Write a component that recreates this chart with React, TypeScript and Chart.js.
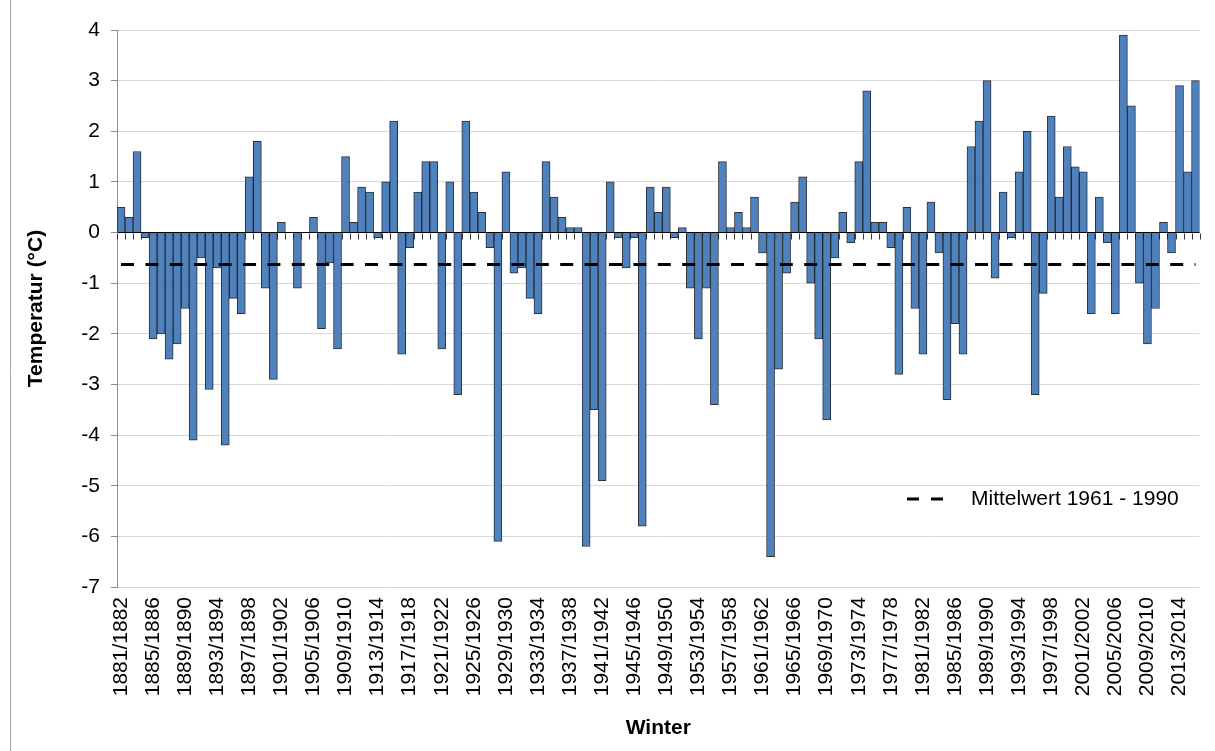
import React, { useEffect, useRef } from "react";
import { Chart, registerables } from "chart.js";

Chart.register(...registerables);

// Winters 1881/1882 ... 2015/2016
const firstWinterStart = 1881;
const winterCount = 135;
const winters: string[] = Array.from(
  { length: winterCount },
  (_, i) => `${firstWinterStart + i}/${firstWinterStart + i + 1}`
);

// Temperature (°C) per winter
const temps1881to1905 = [0.5, 0.3, 1.6, -0.1, -2.1, -2.0, -2.5, -2.2, -1.5, -4.1, -0.5, -3.1, -0.7, -4.2, -1.3, -1.6, 1.1, 1.8, -1.1, -2.9, 0.2, 0.0, -1.1, 0.0, 0.3];
const temps1906to1930 = [-1.9, -0.6, -2.3, 1.5, 0.2, 0.9, 0.8, -0.1, 1.0, 2.2, -2.4, -0.3, 0.8, 1.4, 1.4, -2.3, 1.0, -3.2, 2.2, 0.8, 0.4, -0.3, -6.1, 1.2, -0.8];
const temps1931to1955 = [-0.7, -1.3, -1.6, 1.4, 0.7, 0.3, 0.1, 0.1, -6.2, -3.5, -4.9, 1.0, -0.1, -0.7, -0.1, -5.8, 0.9, 0.4, 0.9, -0.1, 0.1, -1.1, -2.1, -1.1, -3.4];
const temps1956to1980 = [1.4, 0.1, 0.4, 0.1, 0.7, -0.4, -6.4, -2.7, -0.8, 0.6, 1.1, -1.0, -2.1, -3.7, -0.5, 0.4, -0.2, 1.4, 2.8, 0.2, 0.2, -0.3, -2.8, 0.5, -1.5];
const temps1981to2005 = [-2.4, 0.6, -0.4, -3.3, -1.8, -2.4, 1.7, 2.2, 3.0, -0.9, 0.8, -0.1, 1.2, 2.0, -3.2, -1.2, 2.3, 0.7, 1.7, 1.3, 1.2, -1.6, 0.7, -0.2, -1.6];
const temps2006to2015 = [3.9, 2.5, -1.0, -2.2, -1.5, 0.2, -0.4, 2.9, 1.2, 3.0];

const temperatures = [
  ...temps1881to1905,
  ...temps1906to1930,
  ...temps1931to1955,
  ...temps1956to1980,
  ...temps1981to2005,
  ...temps2006to2015,
];

// Mean 1961 - 1990
const mittelwert = -0.63;
const legendLabel = "Mittelwert 1961 - 1990";

const yMin = -7;
const yMax = 4;

const FONT = '"Liberation Sans", Arial, Helvetica, sans-serif';

const decorPlugin = {
  id: "decor",
  beforeDatasetsDraw(chart: any) {
    const ctx = chart.ctx;
    const xs = chart.scales.x;
    const ys = chart.scales.y;
    const y0 = Math.round(ys.getPixelForValue(0)) + 0.5;
    ctx.save();
    ctx.strokeStyle = "#333";
    ctx.lineWidth = 1;
    ctx.beginPath();
    for (let i = 0; i <= winters.length; i++) {
      const px = Math.round(xs.getPixelForValue(i - 0.5)) + 0.5;
      ctx.moveTo(px, y0);
      ctx.lineTo(px, y0 + 6);
    }
    ctx.stroke();
    ctx.restore();
  },
  afterDraw(chart: any) {
    const ctx = chart.ctx;
    ctx.save();
    // legend
    ctx.strokeStyle = "#000";
    ctx.lineWidth = 3;
    ctx.beginPath();
    ctx.moveTo(907, 499);
    ctx.lineTo(919, 499);
    ctx.moveTo(931, 499);
    ctx.lineTo(943, 499);
    ctx.stroke();
    ctx.font = `21px ${FONT}`;
    ctx.fillStyle = "#000";
    ctx.textBaseline = "middle";
    ctx.textAlign = "left";
    ctx.fillText(legendLabel, 971, 499);
    // frame line
    ctx.strokeStyle = "#a6a6a6";
    ctx.lineWidth = 1;
    ctx.beginPath();
    ctx.moveTo(10.5, 0);
    ctx.lineTo(10.5, chart.height);
    ctx.stroke();
    ctx.restore();
  },
};

export default function App() {
  const canvasRef = useRef<HTMLCanvasElement | null>(null);

  useEffect(() => {
    if (!canvasRef.current) return;
    Chart.defaults.font.family = FONT;
    Chart.defaults.color = "#000";
    const chart = new Chart(canvasRef.current, {
      type: "bar",
      data: {
        labels: winters,
        datasets: [
          {
            type: "line",
            label: legendLabel,
            data: winters.map(() => mittelwert),
            borderColor: "#000",
            borderWidth: 3,
            borderDash: [13, 11.4],
            borderCapStyle: "butt",
            pointRadius: 0,
            fill: false,
            order: 0,
          } as any,
          {
            type: "bar",
            label: "Temperatur",
            data: temperatures,
            backgroundColor: "#4F81BD",
            borderColor: "rgba(20,25,35,0.9)",
            borderWidth: 1,
            barPercentage: 1,
            categoryPercentage: 1,
            order: 1,
          },
        ],
      },
      options: {
        responsive: false,
        animation: false,
        layout: { padding: { left: 10, right: 15, top: 30, bottom: 0 } },
        plugins: {
          legend: { display: false },
          tooltip: { enabled: false },
        },
        scales: {
          x: {
            type: "category",
            offset: true,
            grid: { display: false, drawTicks: false },
            border: { display: false },
            ticks: {
              autoSkip: false,
              minRotation: 90,
              maxRotation: 90,
              padding: 10,
              font: { size: 21 },
              color: "#000",
              callback: (_v: any, i: number) => (i % 4 === 0 ? winters[i] : null),
            },
            title: {
              display: true,
              text: "Winter",
              font: { size: 21, weight: "bold" },
              color: "#000",
              padding: { top: 0, bottom: 10 },
            },
            afterFit: (scale: any) => {
              scale.height = 164;
            },
          },
          y: {
            min: yMin,
            max: yMax,
            ticks: {
              stepSize: 1,
              padding: 11,
              font: { size: 21 },
              color: "#000",
            },
            grid: {
              color: (c: any) => (c.tick && c.tick.value === 0 ? "#000" : "#d9d9d9"),
              lineWidth: 1,
              tickLength: 6,
              tickColor: "#8c8c8c",
              drawTicks: true,
            },
            border: { display: true, color: "#8c8c8c", width: 1 },
            title: {
              display: true,
              text: "Temperatur (°C)",
              font: { size: 21, weight: "bold" },
              color: "#000",
              padding: { top: 14, bottom: 0 },
            },
            afterFit: (scale: any) => {
              scale.width = 107;
            },
          },
        },
      },
      plugins: [decorPlugin],
    });
    return () => chart.destroy();
  }, []);

  return (
    <div style={{ position: "fixed", left: 0, top: 0, width: 1215, height: 751, background: "#fff" }}>
      <canvas ref={canvasRef} width={1215} height={751} />
    </div>
  );
}
